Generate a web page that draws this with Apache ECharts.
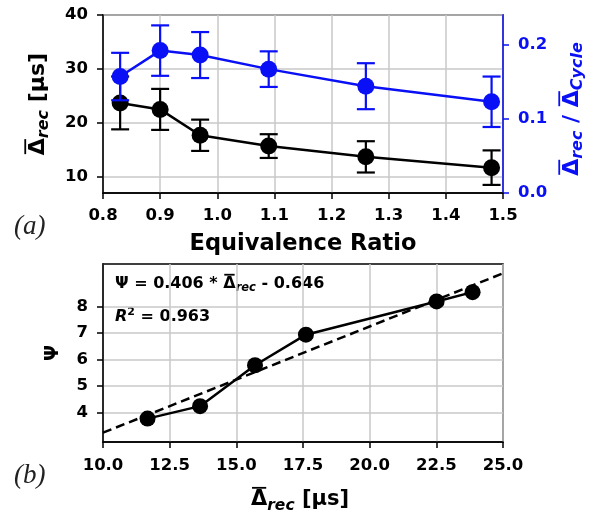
<!DOCTYPE html>
<html><head><meta charset="utf-8">
<script src="https://cdn.jsdelivr.net/npm/echarts@6/dist/echarts.min.js"></script>
<style>html,body{margin:0;padding:0;background:#fff}#c{width:592px;height:513px}</style>
</head><body><div id="c"></div>
<script>
// ---- data ----
const phi = [0.83, 0.90, 0.97, 1.09, 1.26, 1.48];
const deltaRec = [23.7, 22.5, 17.7, 15.7, 13.7, 11.7];
const deltaRecErr = [4.9, 3.8, 2.9, 2.2, 2.9, 3.2];
const ratio = [0.157, 0.192, 0.186, 0.167, 0.144, 0.123];
const ratioErr = [0.032, 0.034, 0.031, 0.024, 0.031, 0.034];
const psiX = [11.67, 13.64, 15.70, 17.61, 22.51, 23.86];
const psiY = [3.78, 4.25, 5.79, 6.94, 8.19, 8.54];
const fitX = [10, 25];
const fitY = [3.25, 9.25];
const leftTicks = [10, 20, 30, 40];
const psiTicks = [4, 5, 6, 7, 8];

const F = 'DejaVu Sans';
const BLUE = '#0a10f5';
const GRIDC = '#c8c8c8';

const zip = (a, b) => a.map((v, i) => [v, b[i]]);
const errData = (x, y, e) => x.map((v, i) => [v, y[i] - e[i], y[i] + e[i]]);

function errRender(color) {
  return function (params, api) {
    const x = api.value(0), lo = api.value(1), hi = api.value(2);
    const p1 = api.coord([x, lo]), p2 = api.coord([x, hi]);
    const w = 9;
    const st = { stroke: color, lineWidth: 2.2 };
    return { type: 'group', children: [
      { type: 'line', shape: { x1: p1[0], y1: p1[1], x2: p2[0], y2: p2[1] }, style: st },
      { type: 'line', shape: { x1: p1[0] - w, y1: p1[1], x2: p1[0] + w, y2: p1[1] }, style: st },
      { type: 'line', shape: { x1: p2[0] - w, y1: p2[1], x2: p2[0] + w, y2: p2[1] }, style: st }
    ]};
  };
}

// composite label (overlined Δ, sub/superscripts) built from text pieces
const mctx = document.createElement('canvas').getContext('2d');
const fontStr = p => (p.it ? 'italic ' : '') + 'bold ' + p.s + 'px "' + F + '"';
function mathLabel(x, y, rot, color, align, parts) {
  const widths = parts.map(p => { mctx.font = fontStr(p); return mctx.measureText(p.t).width; });
  const total = widths.reduce((a, b) => a + b, 0);
  let cur = align === 'center' ? -total / 2 : 0;
  const children = [];
  parts.forEach((p, i) => {
    children.push({ type: 'text', x: cur, y: p.dy || 0,
      style: { text: p.t, font: fontStr(p), fill: color, align: 'left', verticalAlign: 'middle' } });
    if (p.over) {
      const oy = -0.58 * p.s;
      children.push({ type: 'line', shape: { x1: cur + 1, y1: oy, x2: cur + widths[i] - 1, y2: oy },
        style: { stroke: color, lineWidth: 1.8 } });
    }
    cur += widths[i];
  });
  return { type: 'group', x: x, y: y, rotation: rot, z: 100, children: children };
}

const tickLabel = (color) => ({ color: color, fontFamily: F, fontWeight: 'bold', fontSize: 16.5 });
const R90 = Math.PI / 2;

const chart = echarts.init(document.getElementById('c'), null, { renderer: 'canvas' });
chart.setOption({
  animation: false,
  backgroundColor: '#fff',
  grid: [
    { left: 103, right: 89, top: 15, height: 178, show: true, borderColor: '#000', borderWidth: 1.5, backgroundColor: 'transparent' },
    { left: 103, right: 89, top: 264, height: 178, show: true, borderColor: '#000', borderWidth: 1.5, backgroundColor: 'transparent' }
  ],
  xAxis: [
    { type: 'value', gridIndex: 0, min: 0.8, max: 1.5, interval: 0.1,
      name: 'Equivalence Ratio', nameLocation: 'middle', nameGap: 40,
      nameTextStyle: { color: '#000', fontFamily: F, fontWeight: 'bold', fontSize: 22.5 },
      axisLine: { lineStyle: { color: '#000', width: 1.5 } },
      axisTick: { length: 6, lineStyle: { color: '#000', width: 1.5 } },
      axisLabel: Object.assign(tickLabel('#000'), { margin: 14, formatter: v => v.toFixed(1) }),
      splitLine: { show: true, lineStyle: { color: GRIDC, width: 1.5 } } },
    { type: 'value', gridIndex: 1, min: 10, max: 25, interval: 2.5,
      axisLine: { lineStyle: { color: '#000', width: 1.5 } },
      axisTick: { length: 6, lineStyle: { color: '#000', width: 1.5 } },
      axisLabel: Object.assign(tickLabel('#000'), { margin: 15, formatter: v => v.toFixed(1) }),
      splitLine: { show: true, lineStyle: { color: GRIDC, width: 1.5 } } }
  ],
  yAxis: [
    { type: 'value', gridIndex: 0, position: 'left', min: 7, max: 40,
      axisLine: { show: true, lineStyle: { color: '#000', width: 1.5 } },
      axisTick: { show: true, length: 6, customValues: leftTicks, lineStyle: { color: '#000', width: 1.5 } },
      axisLabel: Object.assign(tickLabel('#000'), { margin: 15, customValues: leftTicks }),
      splitLine: { show: true, lineStyle: { color: GRIDC, width: 1.5 } } },
    { type: 'value', gridIndex: 0, position: 'right', min: 0, max: 0.24, interval: 0.1,
      axisLine: { show: true, lineStyle: { color: BLUE, width: 1.5 } },
      axisTick: { show: true, length: 6, lineStyle: { color: BLUE, width: 1.5 } },
      axisLabel: Object.assign(tickLabel(BLUE), { margin: 15, showMaxLabel: false, formatter: v => v.toFixed(1) }),
      splitLine: { show: false } },
    { type: 'value', gridIndex: 1, min: 2.9, max: 9.6,
      name: 'Ψ', nameLocation: 'middle', nameGap: 40, nameRotate: 90,
      nameTextStyle: { color: '#000', fontFamily: F, fontWeight: 'bold', fontSize: 19 },
      axisLine: { show: true, lineStyle: { color: '#000', width: 1.5 } },
      axisTick: { show: true, length: 6, customValues: psiTicks, lineStyle: { color: '#000', width: 1.5 } },
      axisLabel: Object.assign(tickLabel('#000'), { margin: 15, customValues: psiTicks }),
      splitLine: { show: true, lineStyle: { color: GRIDC, width: 1.5 } } }
  ],
  series: [
    { type: 'custom', xAxisIndex: 0, yAxisIndex: 0, renderItem: errRender('#000'),
      encode: { x: 0, y: [1, 2] }, data: errData(phi, deltaRec, deltaRecErr), z: 3 },
    { type: 'line', xAxisIndex: 0, yAxisIndex: 0, data: zip(phi, deltaRec),
      symbol: 'circle', symbolSize: 17, lineStyle: { color: '#000', width: 2.5 },
      itemStyle: { color: '#000' }, z: 4 },
    { type: 'custom', xAxisIndex: 0, yAxisIndex: 1, renderItem: errRender(BLUE),
      encode: { x: 0, y: [1, 2] }, data: errData(phi, ratio, ratioErr), z: 5 },
    { type: 'line', xAxisIndex: 0, yAxisIndex: 1, data: zip(phi, ratio),
      symbol: 'circle', symbolSize: 17, lineStyle: { color: BLUE, width: 2.5 },
      itemStyle: { color: BLUE }, z: 6 },
    { type: 'line', xAxisIndex: 1, yAxisIndex: 2, data: zip(psiX, psiY),
      symbol: 'circle', symbolSize: 16, lineStyle: { color: '#000', width: 2.5 },
      itemStyle: { color: '#000' }, z: 4 },
    { type: 'line', xAxisIndex: 1, yAxisIndex: 2, data: zip(fitX, fitY),
      symbol: 'none', lineStyle: { color: '#000', width: 2.5, type: [9, 5] }, z: 3 }
  ],
  graphic: [
    { type: 'text', left: 14, top: 213, style: { text: '(a)', font: 'italic 27px "Liberation Serif"', fill: '#222' } },
    { type: 'text', left: 14, top: 462, style: { text: '(b)', font: 'italic 27px "Liberation Serif"', fill: '#222' } },
    // left axis name
    mathLabel(38, 104, R90, '#000', 'center', [
      { t: 'Δ', s: 22, over: true }, { t: 'rec', s: 16, it: true, dy: 6 }, { t: ' [μs]', s: 22 }]),
    // right axis name
    mathLabel(572, 109, R90, BLUE, 'center', [
      { t: 'Δ', s: 22, over: true }, { t: 'rec', s: 16, it: true, dy: 6 }, { t: ' / ', s: 22 },
      { t: 'Δ', s: 22, over: true }, { t: 'Cycle', s: 16, it: true, dy: 6 }]),
    // bottom x axis name
    mathLabel(300, 500, 0, '#000', 'center', [
      { t: 'Δ', s: 21, over: true }, { t: 'rec', s: 15.5, it: true, dy: 6 }, { t: ' [μs]', s: 21 }]),
    // fit formula
    mathLabel(115, 284, 0, '#000', 'left', [
      { t: 'Ψ = 0.406 * ', s: 16 }, { t: 'Δ', s: 16, over: true }, { t: 'rec', s: 11.5, it: true, dy: 4 },
      { t: ' - 0.646', s: 16 }]),
    mathLabel(115, 317, 0, '#000', 'left', [
      { t: 'R', s: 16, it: true }, { t: '2', s: 11, dy: -5 }, { t: ' = 0.963', s: 16 }])
  ]
});
</script></body></html>
